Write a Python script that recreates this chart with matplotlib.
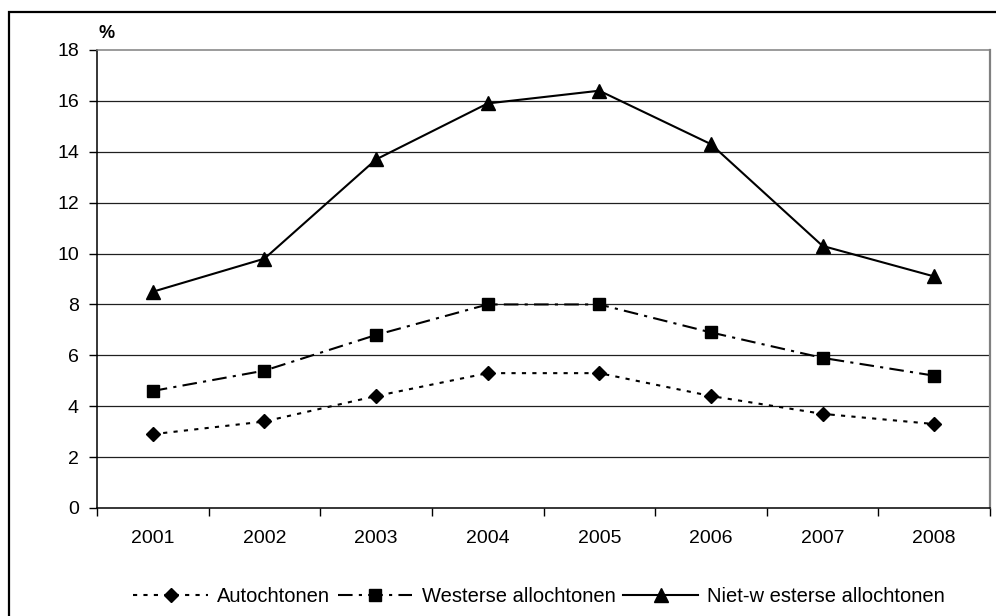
import matplotlib
matplotlib.use("Agg")
import matplotlib.pyplot as plt
from matplotlib.patches import Rectangle
import numpy as np

plt.rcParams['font.family'] = ['Liberation Sans', 'DejaVu Sans']

# data
jaren = ['2001', '2002', '2003', '2004', '2005', '2006', '2007', '2008']
autochtonen = [2.9, 3.4, 4.4, 5.3, 5.3, 4.4, 3.7, 3.3]
westerse = [4.6, 5.4, 6.8, 8.0, 8.0, 6.9, 5.9, 5.2]
niet_westerse = [8.5, 9.8, 13.7, 15.9, 16.4, 14.3, 10.3, 9.1]
namen = ['Autochtonen', 'Westerse allochtonen', 'Niet-w esterse allochtonen']
y_ticks = [0, 2, 4, 6, 8, 10, 12, 14, 16, 18]

fig = plt.figure(figsize=(9.96, 6.16), dpi=100)
ax = fig.add_axes([97/996, 1 - 508/616, (990 - 97)/996, (508 - 50)/616])

x = np.arange(len(jaren))
ax.plot(x, autochtonen, color='black', lw=1.5, ls=(0, (2, 3)),
        marker='D', markersize=7.5, label=namen[0])
ax.plot(x, westerse, color='black', lw=1.5, ls=(0, (7, 3, 1.5, 3)),
        marker='s', markersize=8, label=namen[1])
ax.plot(x, niet_westerse, color='black', lw=1.5, ls='-',
        marker='^', markersize=9.5, label=namen[2])

ax.set_ylim(0, 18)
ax.set_xlim(-0.5, len(jaren) - 0.5)
ax.set_yticks(y_ticks)
ax.set_yticklabels([str(v) for v in y_ticks], fontsize=14)
ax.tick_params(axis='y', length=6, width=1, pad=7)

# tick marks between categories, labels at categories
ax.set_xticks(np.arange(-0.5, len(jaren), 1))
ax.set_xticklabels([])
ax.set_xticks(x, minor=True)
ax.set_xticklabels(jaren, minor=True, fontsize=14)
ax.tick_params(axis='x', which='major', length=6, width=1)
ax.tick_params(axis='x', which='minor', length=0, pad=16)

for v in y_ticks[1:-1]:
    ax.axhline(v, color='#202020', lw=0.9, zorder=0)

ax.spines['left'].set_color('black')
ax.spines['bottom'].set_color('black')
ax.spines['left'].set_linewidth(1.1)
ax.spines['bottom'].set_linewidth(1.1)
ax.spines['top'].set_color('#808080')
ax.spines['right'].set_color('#808080')
ax.spines['top'].set_linewidth(1.1)
ax.spines['right'].set_linewidth(1.6)

fig.text(98/996, 1 - 33/616, '%', fontsize=13, fontweight='bold',
         ha='left', va='center')

fig.legend(loc='center', bbox_to_anchor=(539/996, 19/616), ncol=3,
           frameon=False, fontsize=14.5, handlelength=3.7,
           handletextpad=0.45, columnspacing=0.4, borderaxespad=0)

# outer chart border (right and bottom edges fall outside the picture)
fig.add_artist(Rectangle((9/996, -0.1), 1.2, 1 - 12/616 + 0.1,
                         transform=fig.transFigure, fill=False,
                         edgecolor='black', lw=1.6, clip_on=False))

fig.savefig('out.png', dpi=100)
